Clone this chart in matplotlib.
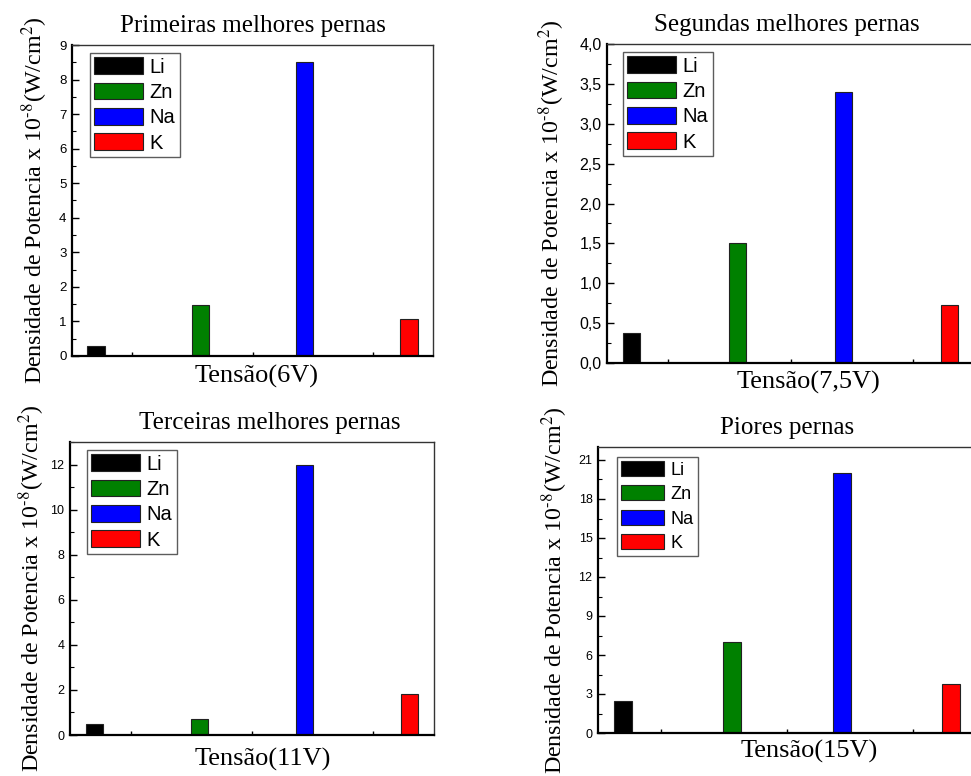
import numpy as np
import matplotlib
matplotlib.use("Agg")
import matplotlib.pyplot as plt
from matplotlib.ticker import MultipleLocator, FuncFormatter

plt.rcParams["mathtext.fontset"] = "stix"

elements = ["Li", "Zn", "Na", "K"]
colors = ["#000000", "#008000", "#0000ff", "#ff0000"]

titles = ["Primeiras melhores pernas", "Segundas melhores pernas",
          "Terceiras melhores pernas", "Piores pernas"]
xlabels = ["Tensão(6V)", "Tensão(7,5V)", "Tensão(11V)", "Tensão(15V)"]

dens_6v = [0.30, 1.47, 8.5, 1.06]
dens_7v5 = [0.37, 1.5, 3.4, 0.73]
dens_11v = [0.48, 0.70, 12.0, 1.81]
dens_15v = [2.44, 7.0, 20.0, 3.74]
series = [dens_6v, dens_7v5, dens_11v, dens_15v]

ylims = [9, 4, 13, 22]
ymajor = [1, 0.5, 2, 3]

ylabel = r"Densidade de Potencia x 10$^{\text{-8}}$(W/cm$^{2}$)"

W, H = 971, 776
fig = plt.figure(figsize=(W / 100, H / 100), dpi=100)

# axes boxes in pixels: left, right, top, bottom
boxes = [(72, 433, 45, 356), (607, 974, 44, 363),
         (70, 434, 442, 735), (598, 976, 447, 733)]
# legend top-left corner in pixels
leg_pos = [(90, 53), (623, 52), (87, 450), (617, 457)]
title_x = [0.50, 0.49, 0.55, 0.50]
xlab_x = [0.51, 0.55, 0.53, 0.56]
xlab_y = [-0.03, -0.025, -0.045, -0.025]
ylab_x = [-0.061, -0.109, -0.064, -0.074]
tick_fs = [9.5, 11.5, 9, 9]
leg_fs = [14.5, 14.5, 14.5, 13]
leg_sp = [0.3, 0.3, 0.3, 0.37]

for i in range(4):
    l, r, t, b = boxes[i]
    ax = fig.add_axes([l / W, 1 - b / H, (r - l) / W, (b - t) / H])
    x = np.arange(len(elements))
    for j in range(len(elements)):
        ax.bar(x[j], series[i][j], width=0.165, color=colors[j],
               edgecolor="#222222", linewidth=0.8, label=elements[j])
    ax.set_xlim(-0.23, 3.23)
    ax.set_ylim(0, ylims[i])
    x0, x1 = ax.get_xlim()
    ax.set_xticks([x0 + (x1 - x0) * f for f in (1 / 6, 0.5, 5 / 6)])
    ax.set_xticklabels([])
    ax.tick_params(axis="x", direction="in", length=3, width=1)
    ax.yaxis.set_major_locator(MultipleLocator(ymajor[i]))
    ax.yaxis.set_minor_locator(MultipleLocator(ymajor[i] / 2))
    ax.tick_params(axis="y", which="major", direction="in", length=5, width=1,
                   labelsize=tick_fs[i], pad=4)
    ax.tick_params(axis="y", which="minor", direction="in", length=3, width=0.8)
    for lab in ax.get_yticklabels():
        lab.set_family("Liberation Sans")
    if i == 1:
        ax.yaxis.set_major_formatter(
            FuncFormatter(lambda v, p: f"{v:.1f}".replace(".", ",")))
    for s in ["left", "bottom"]:
        ax.spines[s].set_linewidth(1.6)
    for s in ["top", "right"]:
        ax.spines[s].set_linewidth(1.0)
        ax.spines[s].set_color("#333333")

    ax.set_title(titles[i], family="Liberation Serif", fontsize=18,
                 x=title_x[i], pad=9)
    ax.set_xlabel(xlabels[i], family="Liberation Serif", fontsize=19)
    ax.xaxis.set_label_coords(xlab_x[i], xlab_y[i])
    ax.set_ylabel(ylabel, family="Liberation Serif", fontsize=17.3)
    ax.yaxis.set_label_coords(ylab_x[i], 0.5)

    lx, ly = leg_pos[i]
    leg = ax.legend(loc="upper left",
                    bbox_to_anchor=((lx - l) / (r - l), 1 - (ly - t) / (b - t)),
                    borderaxespad=0, prop={"family": "Liberation Sans",
                                           "size": leg_fs[i]},
                    fancybox=False, handlelength=2.4, handleheight=0.9,
                    handletextpad=0.35, labelspacing=leg_sp[i], borderpad=0.22)
    leg.get_frame().set_edgecolor("#333333")
    leg.get_frame().set_linewidth(1.0)

fig.savefig("out.png", dpi=100)
